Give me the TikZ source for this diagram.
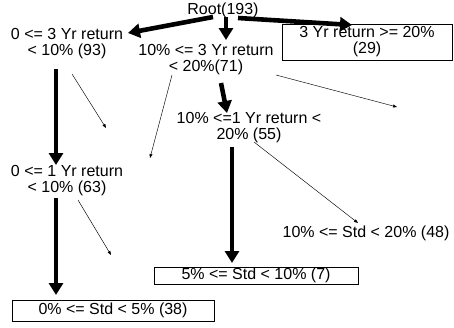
\documentclass[tikz,border=0pt]{standalone}
\usepackage{fontspec}
\setmainfont{Liberation Sans}
\usetikzlibrary{arrows.meta, calc}

\begin{document}
\begin{tikzpicture}[x=1pt, y=-1pt,
  txt/.style={font={\fontsize{16}{16}\selectfont}, align=center, inner sep=1pt},
  leafbox/.style={txt, draw, line width=0.7pt},
  bigarrow/.style={line width=4.6pt, -{Triangle[length=12pt, width=14pt]}},
  thinarrow/.style={line width=0.45pt, -{Triangle[length=4pt, width=3pt]}}]
\useasboundingbox (0,0) rectangle (454,327);
\node[txt] (root) at (223,10) {Root(193)};
\node[txt] (lo3) at (67,44) {0 <= 3 Yr return\\< 10\% (93)};
\node[txt] (mid3) at (206,60) {10\% <= 3 Yr return\\< 20\%(71)};
\node[leafbox, minimum width=170pt, minimum height=36pt] (hi3) at (367,42) {3 Yr return >= 20\%\\(29)};
\node[txt] (mid1) at (249,128) {10\% <=1 Yr return <\\20\% (55)};
\node[txt] (lo1) at (67,181) {0 <= 1 Yr return\\< 10\% (63)};
\node[txt] (stdhi) at (366,233) {10\% <= Std < 20\% (48)};
\node[leafbox, minimum width=204pt, minimum height=17pt, inner ysep=0pt] (stdmid) at (256,275.5) {5\% <= Std < 10\% (7)};
\node[leafbox, minimum width=202pt, minimum height=21pt] (stdlo) at (113,310.5) {0\% <= Std < 5\% (38)};
\coordinate (e1) at (106,128);
\coordinate (e2) at (150,158);
\coordinate (e3) at (397,107);
\coordinate (e4) at (111,255);
\draw[bigarrow] ($(root)+(-10,7)$) -- ($(lo3)+(61,-11)$);
\draw[bigarrow] ($(root)+(3,7)$) -- ($(mid3)+(20,-20)$);
\draw[bigarrow] ($(root)+(15,8)$) -- ($(hi3)+(-15,-17)$);
\draw[bigarrow] ($(lo3)+(-11,25)$) -- ($(lo1)+(-11,-16)$);
\draw[bigarrow] ($(mid3)+(15,23)$) -- ($(mid1)+(-22,-15)$);
\draw[bigarrow] ($(mid1)+(-17,19)$) -- ($(stdmid)+(-24,-12.5)$);
\draw[bigarrow] ($(lo1)+(-11,17)$) -- ($(stdlo)+(-57,-15.5)$);
\draw[thinarrow] ($(lo3)+(5,30)$) -- (e1);
\draw[thinarrow] ($(mid3)+(-34,15)$) -- (e2);
\draw[thinarrow] ($(mid3)+(70,15)$) -- (e3);
\draw[thinarrow] ($(mid1)+(5,14)$) -- ($(stdhi)+(-8,-10)$);
\draw[thinarrow] ($(lo1)+(11,19)$) -- (e4);
\end{tikzpicture}
\end{document}
